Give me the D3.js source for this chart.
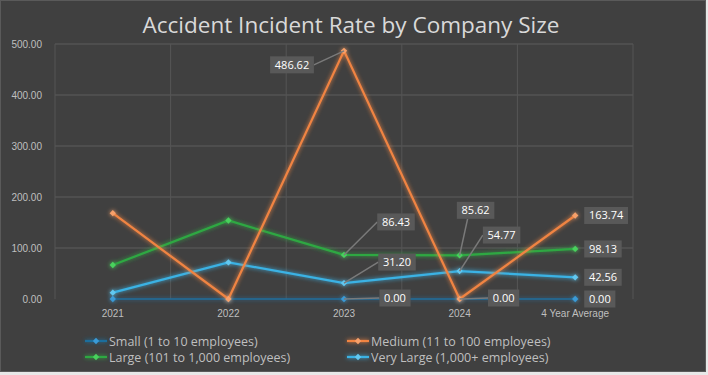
<!DOCTYPE html>
<html lang="en">
<head>
<meta charset="utf-8">
<title>Accident Incident Rate by Company Size</title>
<script src="https://d3js.org/d3.v7.min.js"></script>
<style>
  body { margin: 0; background: #e8e8e8; }
  svg { display: block; font-family: "Open Sans", "Noto Sans", sans-serif; }
  .axis text { fill: #bfbfbf; font-size: 10px; }
  .axis path, .axis line { display: none; }
</style>
</head>
<body>
<script>
// data
var categories = ["2021", "2022", "2023", "2024", "4 Year Average"];
var seriesNames = ["Small (1 to 10 employees)", "Medium (11 to 100 employees)",
                   "Large (101 to 1,000 employees)", "Very Large (1,000+ employees)"];
var small     = [0, 0, 0, 0, 0];
var medium    = [168.34, 0, 486.62, 0, 163.74];
var large     = [66.6, 153.87, 86.43, 85.62, 98.13];
var veryLarge = [12.5, 71.77, 31.20, 54.77, 42.56];
var yTicks = [0, 100, 200, 300, 400, 500];

var colors = ["#1f6e9c", "#f08443", "#2fa843", "#3ab2e4"];
var markFill = ["#3a9ad6", "#f7a06a", "#49d15d", "#62c8f0"];

var width = 708, height = 375;
var margin = {top: 44, right: 75, bottom: 76, left: 55};
var w = width - margin.left - margin.right;
var h = height - margin.top - margin.bottom;

var svg = d3.select("body").append("svg")
  .attr("width", width).attr("height", height);

svg.append("rect").attr("x", 0.5).attr("y", 0.5)
  .attr("width", 705).attr("height", 371)
  .attr("fill", "#404040").attr("stroke", "#5a5a5a");

// soft glow round the lines
var defs = svg.append("defs");
var glow = defs.append("filter").attr("id", "glow")
  .attr("filterUnits", "userSpaceOnUse")
  .attr("x", -50).attr("y", -400).attr("width", 800).attr("height", 800);
glow.append("feGaussianBlur").attr("in", "SourceGraphic").attr("stdDeviation", 2.2).attr("result", "b");
var merge = glow.append("feMerge");
merge.append("feMergeNode").attr("in", "b");
merge.append("feMergeNode").attr("in", "SourceGraphic");

svg.append("text")
  .attr("x", 351).attr("y", 33)
  .attr("text-anchor", "middle")
  .attr("fill", "#d9d9d9")
  .style("font-size", "22.5px")
  .text("Accident Incident Rate by Company Size");

var g = svg.append("g").attr("transform", "translate(" + margin.left + "," + margin.top + ")");

var x = d3.scaleBand().domain(categories).range([0, w]);
var y = d3.scaleLinear().domain([0, 500]).range([h, 0]);

// grid
g.selectAll(".hgrid").data(yTicks.slice(1)).enter().append("line")
  .attr("x1", 0).attr("x2", w)
  .attr("y1", function(d) { return y(d); }).attr("y2", function(d) { return y(d); })
  .attr("stroke", "#5c5c5c").attr("stroke-width", 1);
g.selectAll(".vgrid").data(categories.concat(["end"])).enter().append("line")
  .attr("x1", function(d, i) { return i * x.bandwidth(); })
  .attr("x2", function(d, i) { return i * x.bandwidth(); })
  .attr("y1", 0).attr("y2", h)
  .attr("stroke", "#555555").attr("stroke-width", 1);

// axes
g.append("g").attr("class", "axis")
  .attr("transform", "translate(0," + (h + 8) + ")")
  .call(d3.axisBottom(x).tickSize(0));
g.append("g").attr("class", "axis")
  .attr("transform", "translate(-10,0)")
  .call(d3.axisLeft(y).tickValues(yTicks).tickFormat(d3.format(".2f")).tickSize(0));

var allSeries = [small, medium, large, veryLarge];
var cx = function(i) { return x(categories[i]) + x.bandwidth() / 2; };
var line = d3.line()
  .x(function(d, i) { return cx(i); })
  .y(function(d) { return y(d); });
var marker = d3.symbol().type(d3.symbolSquare).size(20);

var drawOrder = [0, 3, 2, 1];
drawOrder.forEach(function(s) {
  var vals = allSeries[s];
  var sg = g.append("g").attr("filter", "url(#glow)");
  sg.append("path").datum(vals)
    .attr("d", line).attr("fill", "none")
    .attr("stroke", colors[s]).attr("stroke-width", s === 0 ? 1.5 : 2.2);
  sg.selectAll("path.m").data(vals).enter().append("path")
    .attr("class", "m")
    .attr("d", marker)
    .attr("transform", function(d, i) {
      return "translate(" + cx(i) + "," + y(d) + ") rotate(45)";
    })
    .attr("fill", markFill[s]);
});

// data labels: [series, category index, dx, dy] = label box centre offset from point
var labels = [
  [1, 2, -52, 14], [2, 2, 52, -33], [3, 2, 53, -21], [0, 2, 51, -1],
  [2, 3, 16, -45], [3, 3, 42, -36], [0, 3, 44, -1],
  [1, 4, 0, 0], [2, 4, 0, 0], [3, 4, 0, 0], [0, 4, 0, 0]
];
var lg = g.append("g");
labels.forEach(function(l) {
  var v = allSeries[l[0]][l[1]];
  var px = cx(l[1]), py = y(v);
  var txt = v.toFixed(2);
  var bw = txt.length * 6.3 + 6, bh = 17;
  var bx = px + l[2], by = py + l[3];
  if (l[1] === 4) bx = px + 9 + bw / 2;
  if (l[1] !== 4) {
    var ex = l[2] > 0 ? bx - bw / 2 : bx + bw / 2;
    var ey = by;
    if (l[1] === 3 && l[0] === 2) { ex = bx - 8; ey = by + bh / 2; }
    lg.append("line").attr("x1", px).attr("y1", py).attr("x2", ex).attr("y2", ey)
      .attr("stroke", "#7a7a7a").attr("stroke-width", 1.5);
  }
  lg.append("rect").attr("x", bx - bw / 2).attr("y", by - bh / 2)
    .attr("width", bw).attr("height", bh).attr("fill", "#595959");
  lg.append("text").attr("x", bx).attr("y", by + 4)
    .attr("text-anchor", "middle").attr("fill", "#ffffff")
    .style("font-size", "11px").text(txt);
});

// legend
var legPos = [[85, 341], [347, 341], [85, 357], [347, 357]];
seriesNames.forEach(function(name, s) {
  var li = svg.append("g").attr("transform", "translate(" + legPos[s][0] + "," + legPos[s][1] + ")");
  li.append("line").attr("x1", 0).attr("x2", 22).attr("y1", 0).attr("y2", 0)
    .attr("stroke", colors[s]).attr("stroke-width", 2.2).attr("filter", "url(#glow)");
  li.append("path").attr("d", marker)
    .attr("transform", "translate(11,0) rotate(45)").attr("fill", markFill[s]);
  li.append("text").attr("x", 24).attr("y", 4.5)
    .attr("fill", "#bfbfbf").style("font-size", "12.5px").text(name);
});
</script>
</body>
</html>
